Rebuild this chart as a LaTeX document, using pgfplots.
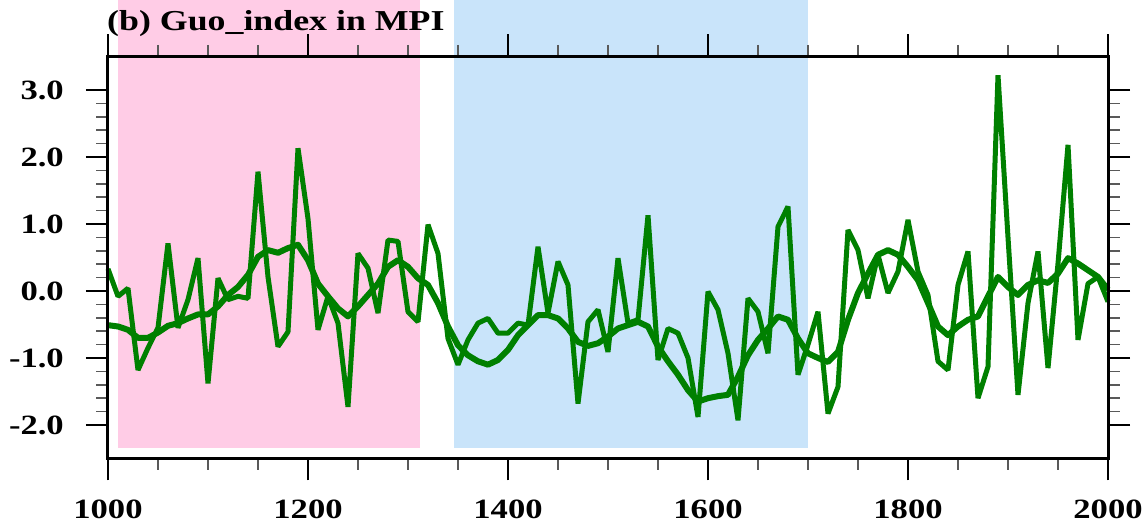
\documentclass[border=0pt]{standalone}
\usepackage{fontspec}
\setmainfont{Liberation Serif}[FakeStretch=1.24]
\usepackage{pgfplots}
\pgfplotsset{compat=1.18}
\definecolor{pinkshade}{RGB}{255,204,230}
\definecolor{blueshade}{RGB}{201,228,250}
\definecolor{lgreen}{RGB}{0,128,0}
\begin{document}
\begin{tikzpicture}
\begin{axis}[
  scale only axis, width=1000bp, height=402bp,
  xmin=1000, xmax=2000, ymin=-2.5, ymax=3.5,
  clip=false, axis on top,
  axis line style={line width=3bp},
  xtick={1000,1200,...,2000},
  xticklabels={1000,1200,1400,1600,1800,2000},
  minor x tick num=3,
  ytick={-2,-1,0,1,2,3},
  yticklabels={-2.0,-1.0,0.0,1.0,2.0,3.0},
  minor y tick num=4,
  tick align=outside, tick pos=both,
  xticklabel pos=lower, yticklabel pos=left,
  major tick length=22bp, minor tick length=11.5bp,
  major tick style={line width=2bp, black},
  minor tick style={line width=1.5bp, black!65},
  ticklabel style={font=\fontsize{28}{28}\selectfont\bfseries},
  xticklabel style={inner sep=0pt, anchor=north, yshift=-19bp},
  yticklabel style={inner sep=0pt, anchor=east, xshift=-22bp},
]
\fill[pinkshade] (axis cs:1010,-2.34) rectangle (axis cs:1312,4.343);
\fill[blueshade] (axis cs:1346,-2.34) rectangle (axis cs:1700,4.343);
\addplot[lgreen, line width=5bp, line join=bevel] coordinates {
(1000,0.33)(1010,-0.08)(1020,0.04)(1030,-1.18)(1040,-0.85)(1050,-0.55)(1060,0.71)(1070,-0.55)(1080,-0.13)(1090,0.49)
(1100,-1.38)(1110,0.19)(1120,-0.13)(1130,-0.08)(1140,-0.11)(1150,1.78)(1160,0.21)(1170,-0.83)(1180,-0.61)(1190,2.13)
(1200,1.08)(1210,-0.58)(1220,-0.08)(1230,-0.48)(1240,-1.73)(1250,0.56)(1260,0.34)(1270,-0.33)(1280,0.76)(1290,0.74)
(1300,-0.31)(1310,-0.46)(1320,0.99)(1330,0.56)(1340,-0.71)(1350,-1.10)(1360,-0.73)(1370,-0.48)(1380,-0.41)(1390,-0.63)
(1400,-0.63)(1410,-0.48)(1420,-0.51)(1430,0.66)(1440,-0.33)(1450,0.44)(1460,0.09)(1470,-1.68)(1480,-0.46)(1490,-0.28)
(1500,-0.91)(1510,0.49)(1520,-0.48)(1530,-0.43)(1540,1.13)(1550,-1.03)(1560,-0.56)(1570,-0.63)(1580,-1.00)(1590,-1.88)
(1600,-0.01)(1610,-0.28)(1620,-0.93)(1630,-1.93)(1640,-0.11)(1650,-0.31)(1660,-0.93)(1670,0.96)(1680,1.26)(1690,-1.25)
(1700,-0.80)(1710,-0.31)(1720,-1.83)(1730,-1.43)(1740,0.91)(1750,0.61)(1760,-0.11)(1770,0.54)(1780,-0.03)(1790,0.29)
(1800,1.06)(1810,0.29)(1820,-0.06)(1830,-1.05)(1840,-1.18)(1850,0.09)(1860,0.59)(1870,-1.60)(1880,-1.13)(1890,3.22)
(1900,0.80)(1910,-1.55)(1920,-0.18)(1930,0.59)(1940,-1.15)(1950,0.41)(1960,2.18)(1970,-0.73)(1980,0.11)(1990,0.21)
(2000,-0.16)};
\addplot[lgreen, line width=6bp, line join=round] coordinates {
(1000,-0.51)(1010,-0.53)(1020,-0.58)(1030,-0.70)(1040,-0.70)(1050,-0.62)(1060,-0.52)(1070,-0.48)(1080,-0.41)(1090,-0.35)
(1100,-0.35)(1110,-0.23)(1120,-0.06)(1130,0.06)(1140,0.24)(1150,0.51)(1160,0.61)(1170,0.57)(1180,0.64)(1190,0.69)
(1200,0.46)(1210,0.11)(1220,-0.08)(1230,-0.26)(1240,-0.38)(1250,-0.23)(1260,-0.06)(1270,0.11)(1280,0.36)(1290,0.46)
(1300,0.36)(1310,0.19)(1320,0.09)(1330,-0.18)(1340,-0.53)(1350,-0.81)(1360,-0.96)(1370,-1.05)(1380,-1.10)(1390,-1.03)
(1400,-0.88)(1410,-0.66)(1420,-0.51)(1430,-0.36)(1440,-0.36)(1450,-0.41)(1460,-0.56)(1470,-0.76)(1480,-0.82)(1490,-0.78)
(1500,-0.68)(1510,-0.56)(1520,-0.51)(1530,-0.46)(1540,-0.53)(1550,-0.83)(1560,-1.05)(1570,-1.25)(1580,-1.48)(1590,-1.65)
(1600,-1.60)(1610,-1.57)(1620,-1.55)(1630,-1.28)(1640,-0.96)(1650,-0.73)(1660,-0.56)(1670,-0.38)(1680,-0.43)(1690,-0.71)
(1700,-0.93)(1710,-1.00)(1720,-1.06)(1730,-0.91)(1740,-0.43)(1750,-0.03)(1760,0.26)(1770,0.54)(1780,0.61)(1790,0.54)
(1800,0.36)(1810,0.16)(1820,-0.18)(1830,-0.53)(1840,-0.66)(1850,-0.53)(1860,-0.43)(1870,-0.38)(1880,-0.08)(1890,0.21)
(1900,0.06)(1910,-0.06)(1920,0.09)(1930,0.16)(1940,0.12)(1950,0.26)(1960,0.49)(1970,0.41)(1980,0.31)(1990,0.21)
(2000,0.02)};
\node[anchor=base west, inner sep=0pt, font=\fontsize{29}{29}\selectfont\bfseries]
  at (rel axis cs:0,1) [yshift=25.5bp, xshift=-1bp] {(b) Guo\_index in MPI};
\coordinate (bbl) at (axis cs:892,-3.4627);
\coordinate (btr) at (axis cs:2036,4.343);
\end{axis}
\pgfresetboundingbox
\path[use as bounding box] (bbl) rectangle (btr);
\end{tikzpicture}
\end{document}
